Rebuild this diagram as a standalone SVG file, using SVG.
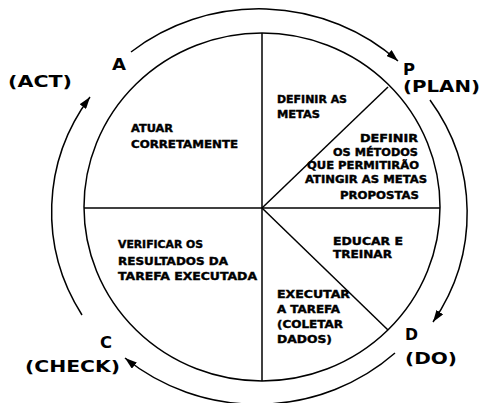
<svg xmlns="http://www.w3.org/2000/svg" width="481" height="403" viewBox="0 0 481 403">
<style>
.ln{fill:none;stroke:#000;stroke-width:1.5}
.arc{fill:none;stroke:#000;stroke-width:1.5;marker-end:url(#ah)}
.t{font-family:"DejaVu Sans","Liberation Sans",sans-serif;font-weight:bold;font-size:10.5px;fill:#000;stroke:#000;stroke-width:0.4}
.big{font-family:"DejaVu Sans","Liberation Sans",sans-serif;font-weight:bold;font-size:15px;fill:#000}
</style>
<defs>
<marker id="ah" viewBox="0 0 12 8" refX="12" refY="4" markerWidth="12" markerHeight="8" markerUnits="userSpaceOnUse" orient="auto">
<path d="M0,0 L12,4 L0,8 Z" fill="#000"/>
</marker>
</defs>
<rect width="481" height="403" fill="#fff"/>
<g id="circle">
<ellipse class="ln" cx="262" cy="207" rx="178" ry="174"/>
<line class="ln" x1="262" y1="33" x2="262" y2="381"/>
<line class="ln" x1="84" y1="208" x2="440" y2="208"/>
<line class="ln" x1="262" y1="208" x2="388" y2="87"/>
<line class="ln" x1="262" y1="208" x2="388" y2="330"/>
</g>
<g id="connectors">
<path class="arc" d="M131,52 A205,197 0 0,1 398,61"/>
<path class="arc" d="M430,100 A205,197 0 0,1 433,322"/>
<path class="arc" d="M395,353 A205,197 0 0,1 125,358"/>
<path class="arc" d="M82,315 A205,197 0 0,1 90,97"/>
</g>
<g id="act-seg">
<text class="t" x="131" y="132" textLength="42" lengthAdjust="spacingAndGlyphs">ATUAR</text>
<text class="t" x="131" y="148" textLength="107" lengthAdjust="spacingAndGlyphs">CORRETAMENTE</text>
</g>
<g id="plan-seg1">
<text class="t" x="277" y="103" textLength="70" lengthAdjust="spacingAndGlyphs">DEFINIR AS</text>
<text class="t" x="277" y="118" textLength="43" lengthAdjust="spacingAndGlyphs">METAS</text>
</g>
<g id="plan-seg2">
<text class="t" x="360" y="142" textLength="58" lengthAdjust="spacingAndGlyphs">DEFINIR</text>
<text class="t" x="333" y="156" textLength="85" lengthAdjust="spacingAndGlyphs">OS MÉTODOS</text>
<text class="t" x="307" y="169" textLength="112" lengthAdjust="spacingAndGlyphs">QUE PERMITIRÃO</text>
<text class="t" x="305" y="183" textLength="122" lengthAdjust="spacingAndGlyphs">ATINGIR AS METAS</text>
<text class="t" x="340" y="199" textLength="79" lengthAdjust="spacingAndGlyphs">PROPOSTAS</text>
</g>
<g id="do-seg1">
<text class="t" x="333" y="245" textLength="70" lengthAdjust="spacingAndGlyphs">EDUCAR E</text>
<text class="t" x="333" y="258" textLength="59" lengthAdjust="spacingAndGlyphs">TREINAR</text>
</g>
<g id="do-seg2">
<text class="t" x="277" y="298" textLength="73" lengthAdjust="spacingAndGlyphs">EXECUTAR</text>
<text class="t" x="277" y="313" textLength="63" lengthAdjust="spacingAndGlyphs">A TAREFA</text>
<text class="t" x="277" y="328" textLength="66" lengthAdjust="spacingAndGlyphs">(COLETAR</text>
<text class="t" x="277" y="343" textLength="55" lengthAdjust="spacingAndGlyphs">DADOS)</text>
</g>
<g id="check-seg">
<text class="t" x="118" y="248" textLength="85" lengthAdjust="spacingAndGlyphs">VERIFICAR OS</text>
<text class="t" x="118" y="265" textLength="110" lengthAdjust="spacingAndGlyphs">RESULTADOS DA</text>
<text class="t" x="118" y="280" textLength="139" lengthAdjust="spacingAndGlyphs">TAREFA EXECUTADA</text>
</g>
<g id="label-a">
<text class="big" x="112" y="70" textLength="14" lengthAdjust="spacingAndGlyphs">A</text>
<text class="big" x="8" y="87" textLength="64" lengthAdjust="spacingAndGlyphs">(ACT)</text>
</g>
<g id="label-p">
<text class="big" x="403" y="75" textLength="12" lengthAdjust="spacingAndGlyphs">P</text>
<text class="big" x="403" y="92" textLength="77" lengthAdjust="spacingAndGlyphs">(PLAN)</text>
</g>
<g id="label-d">
<text class="big" x="405" y="340" textLength="13" lengthAdjust="spacingAndGlyphs">D</text>
<text class="big" x="405" y="364" textLength="52" lengthAdjust="spacingAndGlyphs">(DO)</text>
</g>
<g id="label-c">
<text class="big" x="100" y="348" textLength="12" lengthAdjust="spacingAndGlyphs">C</text>
<text class="big" x="25" y="372" textLength="95" lengthAdjust="spacingAndGlyphs">(CHECK)</text>
</g>
</svg>
